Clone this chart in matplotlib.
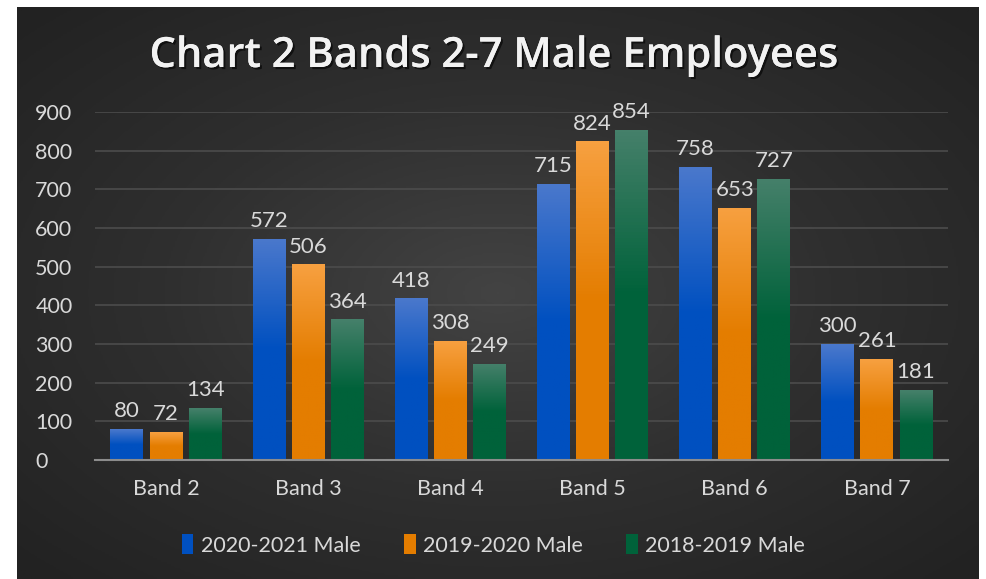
import numpy as np
import matplotlib.pyplot as plt
import matplotlib.patheffects as pe
from matplotlib.patches import Patch
from matplotlib.colors import LinearSegmentedColormap

bands = ['Band 2', 'Band 3', 'Band 4', 'Band 5', 'Band 6', 'Band 7']
male_2020_21 = [80, 572, 418, 715, 758, 300]
male_2019_20 = [72, 506, 308, 824, 653, 261]
male_2018_19 = [134, 364, 249, 854, 727, 181]
series_names = ['2020-2021 Male', '2019-2020 Male', '2018-2019 Male']

# (top colour, bottom colour) for the bar gradients
grads = [('#4a78cc', '#0050c0'), ('#f7a040', '#e47d00'), ('#45806a', '#00623a')]

W, H = 987, 579
fig = plt.figure(figsize=(W / 100, H / 100), dpi=100)
fig.patch.set_facecolor('white')

# dark panel with radial gradient
bg = fig.add_axes([17 / W, 0, (979 - 17) / W, (H - 7) / H])
yy, xx = np.mgrid[-1:1:300j, -1:1:500j]
r = np.sqrt((xx * 0.9) ** 2 + (yy * 0.9) ** 2)
bgcmap = LinearSegmentedColormap.from_list('bg', ['#434343', '#2f2f2f', '#222222'])
bg.imshow(r, cmap=bgcmap, aspect='auto', extent=[0, 1, 0, 1], vmin=0, vmax=1.25)
bg.set_axis_off()

font = 'Lato'
txt = '#d9d9d9'

# plot area: x 95..948 px, y 112 (900) .. 460 (0)
ax = fig.add_axes([95 / W, (H - 460) / H, (948 - 95) / W, (460 - 112) / H])
ax.set_facecolor('none')

x = np.arange(len(bands))
width = 0.232
step = 0.275
all_series = [male_2020_21, male_2019_20, male_2018_19]
grad_img = np.linspace(0, 1, 100).reshape(-1, 1)
for i, (vals, (ctop, cbot)) in enumerate(zip(all_series, grads)):
    cmap = LinearSegmentedColormap.from_list('g%d' % i, [cbot, cbot, ctop])
    offs = (i - 1) * step
    bars = ax.bar(x + offs, vals, width, color='none', zorder=2)
    for b, v in zip(bars, vals):
        im = ax.imshow(grad_img, cmap=cmap, aspect='auto', origin='lower',
                       extent=[b.get_x(), b.get_x() + b.get_width(), 0, v],
                       zorder=2, vmin=0, vmax=1)
        im.set_clip_path(b)
        ax.text(b.get_x() + b.get_width() / 2, v + 20, str(v), ha='center', va='bottom',
                color=txt, fontsize=16, family=font)

ax.set_xlim(-0.5, len(bands) - 0.5)
ax.set_ylim(0, 900)
ax.set_yticks(range(0, 901, 100))
ax.yaxis.grid(True, color='#4c4c4c', linewidth=1.2, zorder=0)
ax.set_axisbelow(True)
ax.set_xticks(x)
ax.set_xticklabels(bands)
for s in ['top', 'right', 'left']:
    ax.spines[s].set_visible(False)
ax.spines['bottom'].set_color('#8c8c8c')
ax.spines['bottom'].set_linewidth(1.5)
ax.spines['bottom'].set_zorder(3)
ax.tick_params(axis='both', length=0, colors=txt, labelsize=15.5)
ax.tick_params(axis='x', pad=14)
ax.tick_params(axis='y', pad=43)
for lab in ax.get_xticklabels() + ax.get_yticklabels():
    lab.set_family(font)
for lab in ax.get_yticklabels():
    lab.set_horizontalalignment('left')

title = 'Chart 2 Bands 2-7 Male Employees'
fig.text(0.5, (H - 56) / H, title, ha='center', va='center',
         color='#f2f2f2', fontsize=30, fontweight='semibold', family='Open Sans',
         path_effects=[pe.withSimplePatchShadow(offset=(1.5, -1.5), shadow_rgbFace='black',
                                                alpha=0.6), pe.Normal()])

handles = [Patch(facecolor=c[1], edgecolor='none') for c in grads]
fig.legend(handles, series_names, loc='center', bbox_to_anchor=(0.5, (H - 545) / H),
           ncol=3, frameon=False, labelcolor=txt, handlelength=0.55,
           handleheight=1.0, handletextpad=0.35, columnspacing=2.0,
           prop={'family': font, 'size': 15.5})

fig.savefig('out.png', dpi=100, facecolor=fig.get_facecolor())
